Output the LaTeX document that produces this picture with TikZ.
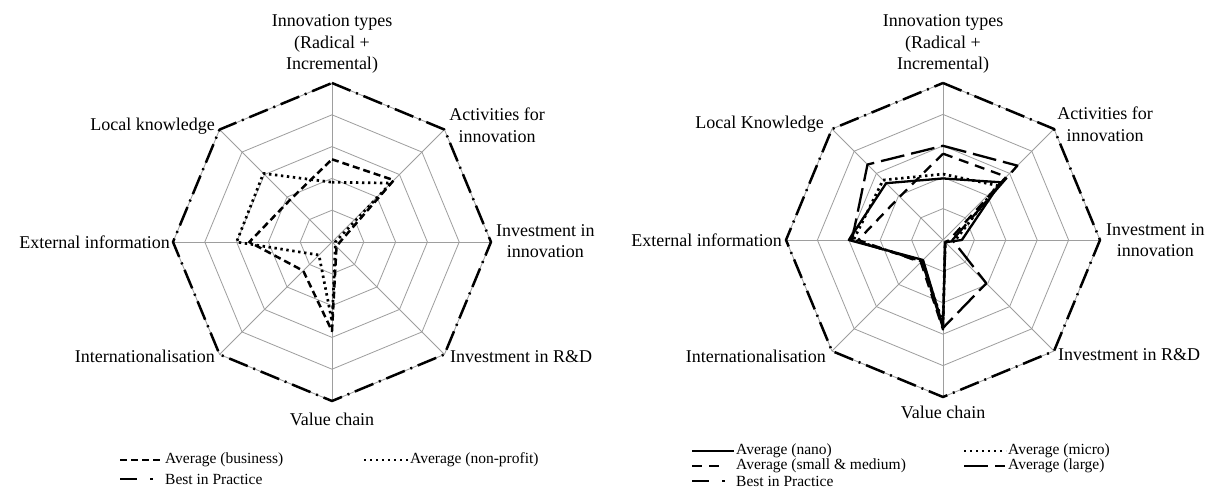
\documentclass[tikz,border=0pt]{standalone}
\usepackage{fontspec}
\setmainfont{Liberation Serif}
\newcommand\radarpoly[9]{\draw[#1] (90:#2) -- (45:#3) -- (0:#4) -- (-45:#5) -- (-90:#6) -- (-135:#7) -- (180:#8) -- (135:#9) -- cycle;}
\newcommand\radargrid{%
  \foreach \r in {1,...,5} {\draw[gridline] (90:\r) -- (45:\r) -- (0:\r) -- (-45:\r) -- (-90:\r) -- (-135:\r) -- (180:\r) -- (135:\r) -- cycle;}
  \foreach \a in {90,45,...,-225} {\draw[gridline] (0,0) -- (\a:5);}
}
\begin{document}
\begin{tikzpicture}[x=1pt,y=-1pt,
  gridline/.style={draw=black!38, line width=0.8pt},
  bestline/.style={line width=2.5pt, line join=round, dash pattern=on 20pt off 6pt on 2pt off 6pt},
  legbest/.style={line width=2.5pt, dash pattern=on 17pt off 13pt on 2.5pt off 20pt},
  busline/.style={line width=2.5pt, line join=round, dash pattern=on 7pt off 4pt},
  dotline/.style={line width=2.7pt, line join=round, dash pattern=on 2.4pt off 3.6pt},
  nanoline/.style={line width=2.3pt, line join=round},
  smline/.style={line width=2.3pt, line join=round, dash pattern=on 10pt off 7pt},
  largeline/.style={line width=2.3pt, line join=round, dash pattern=on 24pt off 7pt},
  axlabel/.style={font=\fontsize{18}{21.5}\selectfont, inner sep=0pt, align=center},
  legtext/.style={font=\fontsize{15.5}{18}\selectfont, inner sep=0pt, anchor=west},
]
\fill[white] (0,0) rectangle (1209,488);
\useasboundingbox (0,0) rectangle (1209,488);
\clip (0,0) rectangle (1209,488);

% ---------- left chart ----------
\begin{scope}[shift={(332,242)}, x=31.8pt, y=31.8pt]
  \radargrid
  \radarpoly{busline}{2.6}{2.75}{0.25}{0.2}{2.8}{1.28}{2.6}{1.87}
  \radarpoly{dotline}{1.88}{2.62}{0.1}{0.15}{2.5}{0.58}{3.0}{3.05}
  \radarpoly{bestline}{5}{5}{5}{5}{5}{5}{5}{5}
\end{scope}

\node[axlabel] (lit) at (332,44) {Innovation types\\(Radical +\\Incremental)};
\node[axlabel] (laf) at (497,125) {Activities for\\innovation};
\node[axlabel, anchor=west] (lii) at (496,241) {Investment in\\innovation};
\node[axlabel, anchor=west] (lird) at (450,357) {Investment in R\&D};
\node[axlabel] (lvc) at (332,419) {Value chain};
\node[axlabel, anchor=east] (lint) at (215,356) {Internationalisation};
\node[axlabel, anchor=east] (lei) at (170,242) {External information};
\node[axlabel, anchor=east] (llk) at (215,126) {Local knowledge};

% left legend
\coordinate (lba) at (120,460); \coordinate (lbb) at (162,460);
\draw[busline] (lba) -- (lbb);
\node[legtext] (lbt) at (165,460) {Average (business)};
\coordinate (lna) at (364,460); \coordinate (lnb) at (408,460);
\draw[dotline] (lna) -- (lnb);
\node[legtext] (lnt) at (410,460) {Average (non-profit)};
\coordinate (lpa) at (120,479); \coordinate (lpb) at (155,479);
\draw[legbest] (lpa) -- (lpb);
\node[legtext] (lpt) at (165,479) {Best in Practice};

% ---------- right chart ----------
\begin{scope}[shift={(943,240)}, x=31.4pt, y=31.4pt]
  \radargrid
  \radarpoly{largeline}{3.0}{3.35}{0.3}{1.95}{2.8}{0.95}{2.9}{3.4}
  \radarpoly{smline}{2.75}{2.85}{0.2}{0.1}{2.85}{1.0}{2.7}{1.95}
  \radarpoly{dotline}{2.1}{2.45}{0.4}{0.1}{2.65}{0.95}{2.85}{2.7}
  \radarpoly{nanoline}{1.96}{2.6}{0.6}{0.1}{2.75}{0.9}{3.0}{2.56}
  \radarpoly{bestline}{5}{5}{5}{5}{5}{5}{5}{5}
\end{scope}

\node[axlabel] (rit) at (943,44) {Innovation types\\(Radical +\\Incremental)};
\node[axlabel] (raf) at (1105,124) {Activities for\\innovation};
\node[axlabel, anchor=west] (rii) at (1106,240) {Investment in\\innovation};
\node[axlabel, anchor=west] (rird) at (1058,355) {Investment in R\&D};
\node[axlabel] (rvc) at (943,412) {Value chain};
\node[axlabel, anchor=east] (rint) at (826,356) {Internationalisation};
\node[axlabel, anchor=east] (rei) at (782,240) {External information};
\node[axlabel, anchor=east] (rlk) at (824,124) {Local Knowledge};

% right legend
\coordinate (rna) at (692,451); \coordinate (rnb) at (734,451);
\draw[nanoline] (rna) -- (rnb);
\node[legtext] (rnt) at (736,451) {Average (nano)};
\coordinate (rma) at (964,451); \coordinate (rmb) at (1006,451);
\draw[dotline] (rma) -- (rmb);
\node[legtext] (rmt) at (1008,451) {Average (micro)};
\coordinate (rsa) at (692,466); \coordinate (rsb) at (723,466);
\draw[smline] (rsa) -- (rsb);
\node[legtext] (rst) at (736,466) {Average (small \& medium)};
\coordinate (rla) at (964,466); \coordinate (rlb) at (1005,466);
\draw[largeline] (rla) -- (rlb);
\node[legtext] (rlt) at (1008,466) {Average (large)};
\coordinate (rpa) at (692,481); \coordinate (rpb) at (726,481);
\draw[legbest] (rpa) -- (rpb);
\node[legtext] (rpt) at (736,481) {Best in Practice};
\end{tikzpicture}
\end{document}
